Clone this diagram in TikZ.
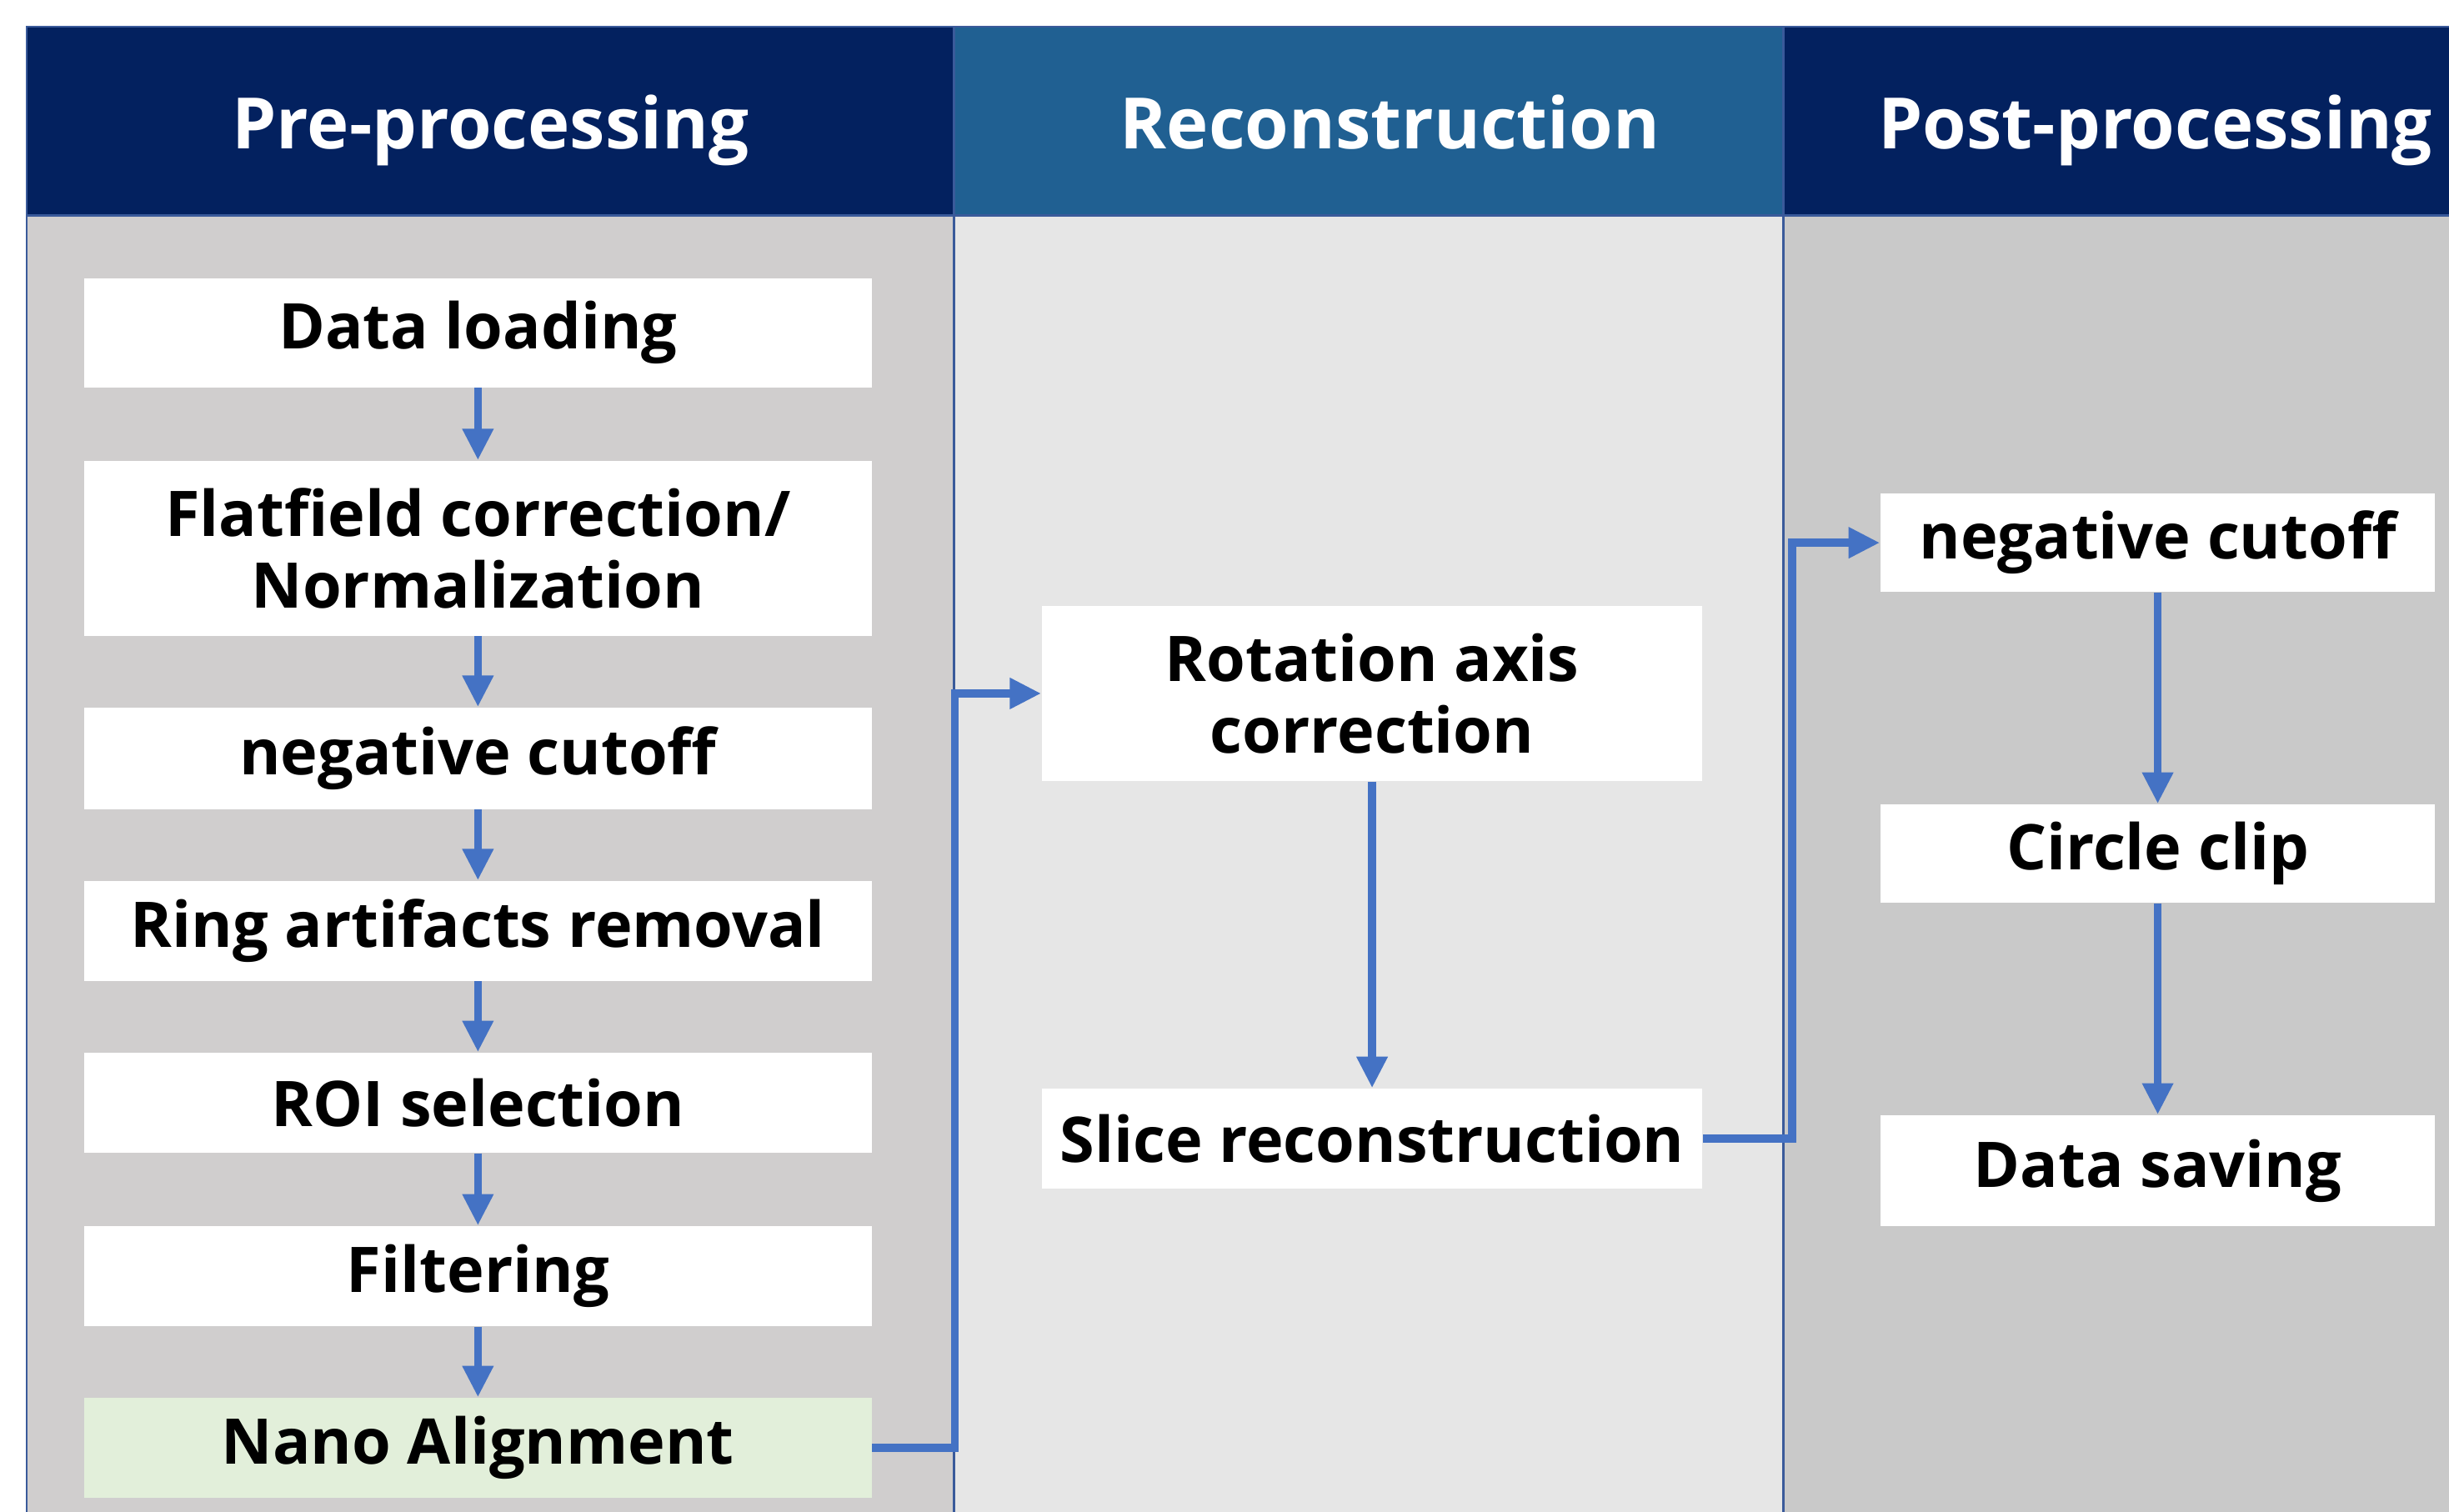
\documentclass[tikz,border=0pt]{standalone}
\usepackage{fontspec}
\setmainfont{Open Sans}
\usetikzlibrary{arrows.meta}

\definecolor{navy}{HTML}{03215F}
\definecolor{steel}{HTML}{206092}
\definecolor{paneA}{HTML}{D0CECE}
\definecolor{paneB}{HTML}{E6E6E6}
\definecolor{paneC}{HTML}{C9C9C9}
\definecolor{rule}{HTML}{3A5A9A}
\definecolor{flowblue}{HTML}{4472C4}
\definecolor{mint}{HTML}{E2EFDA}

\begin{document}
\begin{tikzpicture}[x=0.01874cm,y=-0.01874cm,
    head/.style={text=white,anchor=base,font=\fontsize{24.2}{27}\selectfont\bfseries},
    stepbox/.style={fill=white,inner sep=0pt,align=center,
      font=\fontsize{21.5}{24.5}\selectfont\bfseries},
    prebox/.style={stepbox,minimum width=9.445cm,minimum height=1.199cm},
    recbox/.style={stepbox,minimum width=7.927cm,minimum height=1.199cm},
    postbox/.style={stepbox,minimum width=6.653cm,minimum height=1.181cm},
    flow/.style={draw=flowblue,line width=2.7pt,
      -{Triangle[length=10.7pt,width=10pt]}}]
  \useasboundingbox (0,0) rectangle (1568,968);

  % column panels
  \fill[navy]  (17,17) rectangle (611,138);
  \fill[steel] (611,17) rectangle (1142,138);
  \fill[navy]  (1142,17) rectangle (1568,138);
  \fill[paneA] (17,138) rectangle (611,968);
  \fill[paneB] (611,138) rectangle (1142,968);
  \fill[paneC] (1142,138) rectangle (1568,968);
  \draw[rule,line width=.7pt] (17,968) -- (17,17) -- (1568,17);
  \draw[rule,line width=.7pt] (17,138) -- (1568,138);
  \draw[rule,line width=.9pt] (611,17) -- (611,968);
  \draw[rule,line width=.9pt] (1142,17) -- (1142,968);

  \path (314,95.5) node[head] (hpre) {Pre-processing};
  \path (890,95.5) node[head] (hrec) {Reconstruction};
  \path (1380,95.5) node[head] (hpost) {Post-processing};

  % pre-processing
  \path (306,213) node[prebox,minimum height=1.312cm] (load) {Data loading};
  \path (306,351) node[prebox,minimum height=2.099cm] (flat) {Flatfield correction/\\Normalization};
  \path (306,485.5) node[prebox,minimum height=1.218cm] (neg) {negative cutoff};
  \path (306,596) node[prebox] (ring) {Ring artifacts removal};
  \path (306,706) node[prebox] (roi) {ROI selection};
  \path (306,817) node[prebox] (filt) {Filtering};
  \path (306,927) node[prebox,fill=mint] (nano) {Nano Alignment};

  % reconstruction
  \path (878.5,444) node[recbox,minimum height=2.099cm] (rot) {Rotation axis\\correction};
  \path (878.5,729) node[recbox] (slice) {Slice reconstruction};

  % post-processing
  \path (1381.5,347.5) node[postbox] (cut) {negative cutoff};
  \path (1381.5,546.5) node[postbox] (clip) {Circle clip};
  \path (1381.5,749.5) node[postbox,minimum height=1.331cm] (save) {Data saving};

  \draw[flow] (load) -- (flat); %load-flat
  \draw[flow] (flat) -- (neg); %flat-neg
  \draw[flow] (neg) -- (ring); %neg-ring
  \draw[flow] (ring) -- (roi); %ring-roi
  \draw[flow] (roi) -- (filt); %roi-filt
  \draw[flow] (filt) -- (nano); %filt-nano
  \draw[flow] (nano.east) -- ++(53,0) |- (rot.west); %nano-rot
  \draw[flow] (rot) -- (slice); %rot-slice
  \draw[flow] (slice.east) -- ++(57,0) |- (cut.west); %slice-cut
  \draw[flow] (cut) -- (clip); %cut-clip
  \draw[flow] (clip) -- (save); %clip-save

\end{tikzpicture}
\end{document}
